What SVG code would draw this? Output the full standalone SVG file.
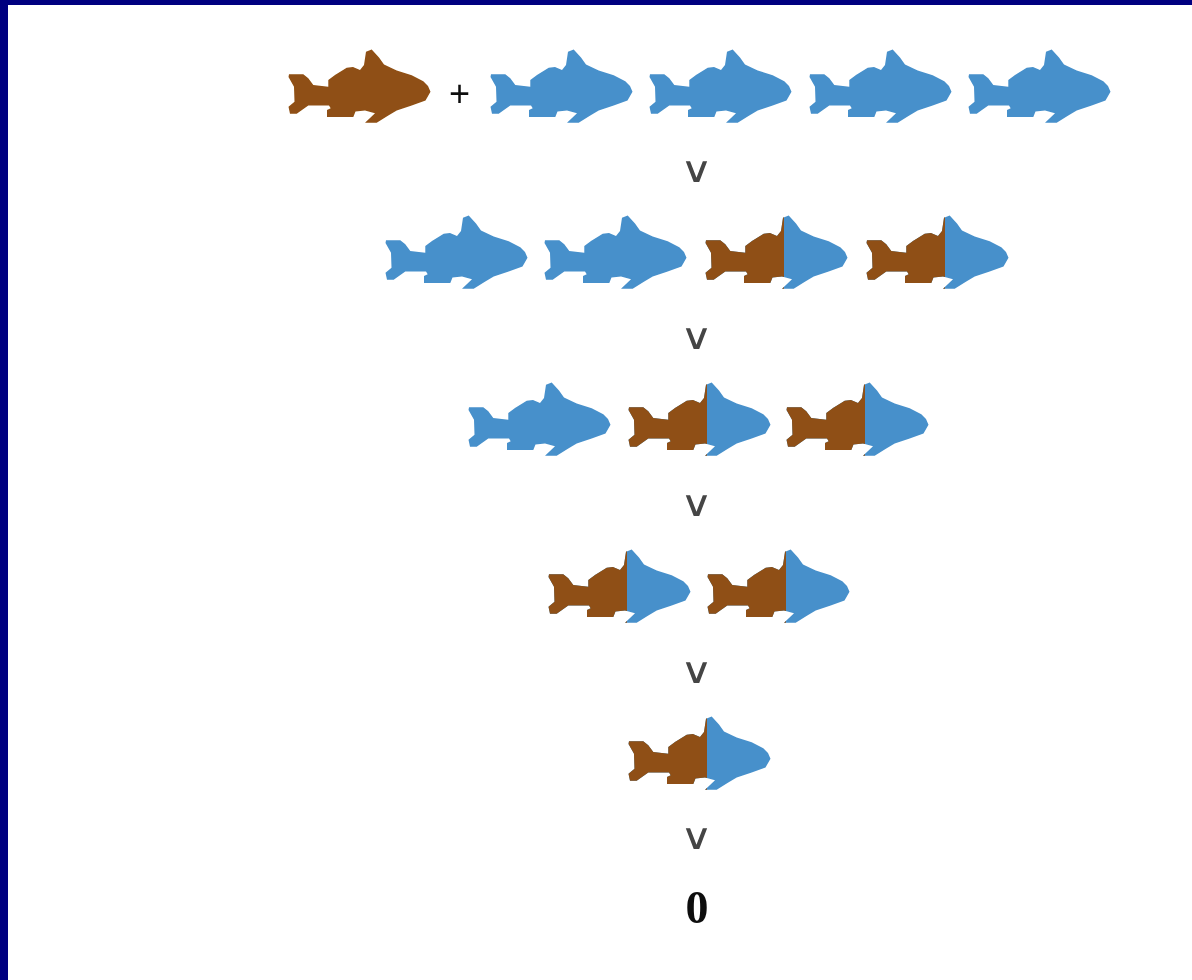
<svg xmlns="http://www.w3.org/2000/svg" xmlns:xlink="http://www.w3.org/1999/xlink" width="1192" height="980" viewBox="0 0 1192 980">
<style>
.brown{fill:#8f4f12}
.blue{fill:#4790cb}
.op{font-family:"Liberation Sans",sans-serif;font-size:36px;fill:#111;text-anchor:middle}
.vee{font-family:"Liberation Serif",serif;font-size:36px;font-weight:200;fill:#444;text-anchor:middle}
.zero{font-family:"Liberation Serif",serif;font-weight:bold;font-size:46px;fill:#111;text-anchor:middle}
.soft{filter:url(#soft)}
</style>
<defs>
<filter id="soft" x="-5%" y="-5%" width="110%" height="110%"><feGaussianBlur stdDeviation="0.6"/></filter>
<path id="fish" d="M9 34.3L23.3 34.3L28.3 38.3L33.3 45L48.3 46.7L48.3 40L55 35L66.7 27.7L73 27L80 30L84 25L86 11.7L91.7 9.5L99 17.5L104 24.5L116.7 30.5L131.7 35.2L143.3 41.2L148 46L150.5 51.7L145.5 60.5L131.7 65.5L116.7 70.5L108.3 75.5L96.7 82.8L85 82.8L95 73.3L85 70.5L75.5 71.5L73.3 77L47 77L47 70L50.7 68.3L49 65.5L28.3 65.5L16.7 73.8L10 73.8L8.5 66.7L14.5 61.7L14 46.7L8.5 37Z"/>
<clipPath id="left"><rect x="0" y="0" width="87" height="100"/></clipPath>
<g id="blueFish"><use xlink:href="#fish" href="#fish" class="blue"/></g>
<g id="halfFish"><use xlink:href="#fish" href="#fish" class="blue"/><use xlink:href="#fish" href="#fish" class="brown" clip-path="url(#left)"/></g>
</defs>
<rect width="1192" height="980" fill="#fff"/>
<path d="M0 0H1192V5H8V980H0Z" fill="#000080"/>
<g id="row1" class="soft">
<g id="r1-brown"><use xlink:href="#fish" href="#fish" class="brown" x="280" y="40"/></g>
<text class="op" x="459.5" y="106">+</text>
<g id="r1-f1"><use xlink:href="#blueFish" href="#blueFish" x="482" y="40"/></g>
<g id="r1-f2"><use xlink:href="#blueFish" href="#blueFish" x="641" y="40"/></g>
<g id="r1-f3"><use xlink:href="#blueFish" href="#blueFish" x="801" y="40"/></g>
<g id="r1-f4"><use xlink:href="#blueFish" href="#blueFish" x="960" y="40"/></g>
</g>
<text class="vee soft" transform="translate(697,182) scale(1.25,1)">∨</text>
<g id="row2" class="soft">
<g id="r2-f1"><use xlink:href="#blueFish" href="#blueFish" x="377" y="206"/></g>
<g id="r2-f2"><use xlink:href="#blueFish" href="#blueFish" x="536" y="206"/></g>
<g id="r2-f3"><use xlink:href="#halfFish" href="#halfFish" x="697" y="206"/></g>
<g id="r2-f4"><use xlink:href="#halfFish" href="#halfFish" x="858" y="206"/></g>
</g>
<text class="vee soft" transform="translate(697,349) scale(1.25,1)">∨</text>
<g id="row3" class="soft">
<g id="r3-f1"><use xlink:href="#blueFish" href="#blueFish" x="460" y="373"/></g>
<g id="r3-f2"><use xlink:href="#halfFish" href="#halfFish" x="620" y="373"/></g>
<g id="r3-f3"><use xlink:href="#halfFish" href="#halfFish" x="778" y="373"/></g>
</g>
<text class="vee soft" transform="translate(697,516) scale(1.25,1)">∨</text>
<g id="row4" class="soft">
<g id="r4-f1"><use xlink:href="#halfFish" href="#halfFish" x="540" y="540"/></g>
<g id="r4-f2"><use xlink:href="#halfFish" href="#halfFish" x="699" y="540"/></g>
</g>
<text class="vee soft" transform="translate(697,683) scale(1.25,1)">∨</text>
<g id="row5" class="soft">
<g id="r5-f1"><use xlink:href="#halfFish" href="#halfFish" x="620" y="707"/></g>
</g>
<text class="vee soft" transform="translate(697,849) scale(1.25,1)">∨</text>
<text class="zero soft" x="697" y="923">0</text>
</svg>
